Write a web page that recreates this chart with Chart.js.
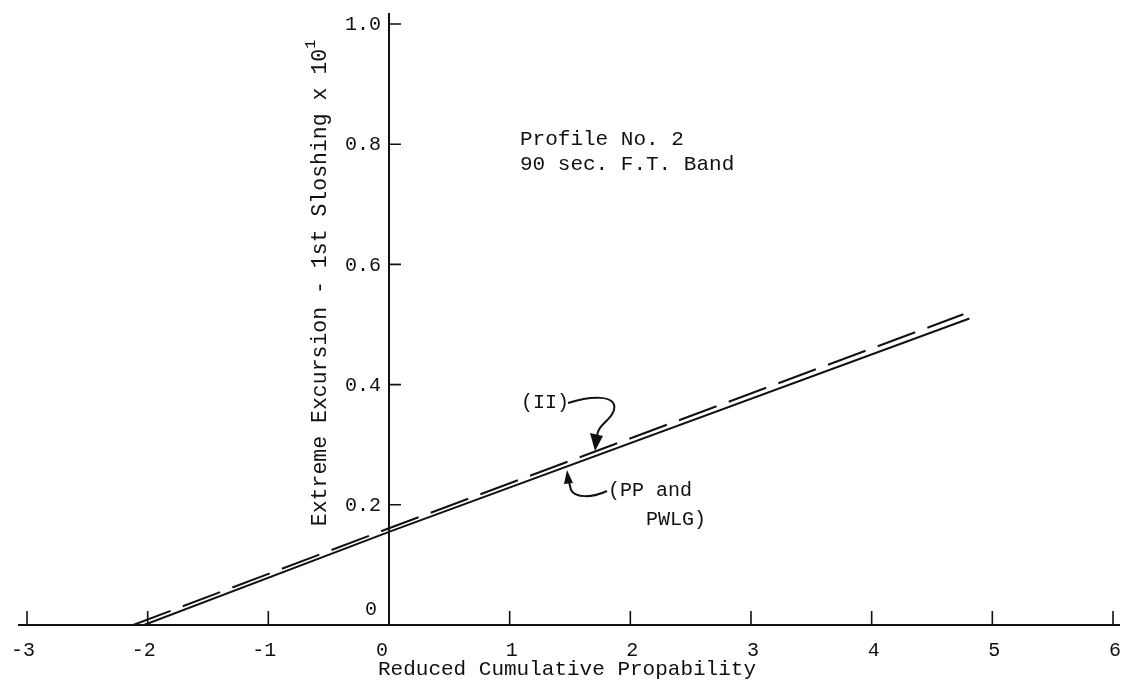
<!DOCTYPE html>
<html>
<head>
<meta charset="utf-8">
<script src="https://cdn.jsdelivr.net/npm/chart.js@4/dist/chart.umd.min.js"></script>
<style>
  body { margin: 0; background: #fff; }
  #wrap { width: 1121px; height: 687px; }
</style>
</head>
<body>
<div id="wrap"><canvas id="chart" width="1121" height="687"></canvas></div>
<script>
// Tick values and labels
const xTickValues = [-3, -2, -1, 0, 1, 2, 3, 4, 5, 6];
const xTickLabels = ['-3', '-2', '-1', '0', '1', '2', '3', '4', '5', '6'];
const yTickValues = [0, 0.2, 0.4, 0.6, 0.8, 1.0];
const yTickLabels = ['0', '0.2', '0.4', '0.6', '0.8', '1.0'];

// Lines (x = reduced cumulative probability)
const solidX = [-2.03, 0, 4.81];
const solidY = [0, 0.155, 0.510];   // PP and PWLG
const dashedX = [-2.12, 0, 4.76];
const dashedY = [0, 0.161, 0.517];  // II

const FONT = '"Liberation Mono", "DejaVu Sans Mono", monospace';
const INK = '#111';

function toPoints(xs, ys) {
    return xs.map((x, i) => ({ x: x, y: ys[i] }));
}

// Draws axis lines, inward tick marks, tick labels, axis titles and the notes
const decorPlugin = {
    id: 'decor',
    afterDraw(chart) {
        const ctx = chart.ctx;
        const xs = chart.scales.x;
        const ys = chart.scales.y;
        const px = v => xs.getPixelForValue(v);
        const py = v => ys.getPixelForValue(v);
        const x0 = px(0), y0 = py(0);

        ctx.save();
        ctx.strokeStyle = INK;
        ctx.fillStyle = INK;
        ctx.lineWidth = 2;

        // axis lines
        ctx.beginPath();
        ctx.moveTo(chart.chartArea.left - 9, y0);
        ctx.lineTo(chart.chartArea.right + 7, y0);
        ctx.moveTo(x0, py(1.0) - 11);
        ctx.lineTo(x0, y0);
        ctx.stroke();

        // tick marks
        ctx.lineWidth = 1.6;
        ctx.beginPath();
        xs.ticks.forEach(t => {
            if (t.value === 0) return;
            ctx.moveTo(px(t.value), y0);
            ctx.lineTo(px(t.value), y0 - 14);
        });
        ys.ticks.forEach(t => {
            if (t.value === 0) return;
            ctx.moveTo(x0, py(t.value));
            ctx.lineTo(x0 + 12, py(t.value));
        });
        ctx.stroke();

        // x tick labels
        ctx.font = '20px ' + FONT;
        ctx.textAlign = 'center';
        ctx.textBaseline = 'middle';
        xTickValues.forEach((v, i) => {
            let shift = xTickLabels[i].startsWith('-') ? -4 : 2;
            if (v === 0) shift = -7;
            ctx.fillText(xTickLabels[i], px(v) + shift, y0 + 26);
        });

        // y tick labels, left of the axis; the "0" sits above the x axis
        ctx.textAlign = 'right';
        yTickValues.forEach((v, i) => {
            if (i === 0) {
                ctx.fillText(yTickLabels[i], x0 - 12, y0 - 15);
            } else {
                ctx.fillText(yTickLabels[i], x0 - 8, py(v) + 1);
            }
        });

        // x title
        ctx.font = '21px ' + FONT;
        ctx.textAlign = 'center';
        ctx.fillText('Reduced Cumulative Propability', 567, 669);

        // y title with superscript
        const main = 'Extreme Excursion - 1st Sloshing x 10';
        ctx.save();
        ctx.translate(320, 283);
        ctx.rotate(-Math.PI / 2);
        ctx.font = '21.5px ' + FONT;
        const wMain = ctx.measureText(main).width;
        ctx.font = '15px ' + FONT;
        const wSup = ctx.measureText('1').width;
        const start = -(wMain + wSup) / 2;
        ctx.font = '21.5px ' + FONT;
        ctx.textAlign = 'left';
        ctx.fillText(main, start, 0);
        ctx.font = '15px ' + FONT;
        ctx.fillText('1', start + wMain, -9);
        ctx.restore();

        // notes
        ctx.font = '21px ' + FONT;
        ctx.textAlign = 'left';
        ctx.textBaseline = 'middle';
        ctx.fillText('Profile No. 2', 520, 139);
        ctx.fillText('90 sec. F.T. Band', 520, 164);
        ctx.font = '20px ' + FONT;
        ctx.fillText('(II)', 521, 403);
        ctx.fillText('(PP and', 608, 491);
        ctx.fillText('PWLG)', 646, 520);

        // curved arrows
        ctx.lineWidth = 2;
        ctx.beginPath();
        ctx.moveTo(568, 403);
        ctx.bezierCurveTo(590, 396, 618, 394, 614, 410);
        ctx.bezierCurveTo(611, 421, 598, 424, 597, 436);
        ctx.stroke();
        ctx.beginPath();
        ctx.moveTo(590, 433);
        ctx.lineTo(603, 436);
        ctx.lineTo(595, 451);
        ctx.closePath();
        ctx.fill();

        ctx.beginPath();
        ctx.moveTo(607, 491);
        ctx.bezierCurveTo(592, 498, 575, 498, 571, 490);
        ctx.lineTo(569, 482);
        ctx.stroke();
        ctx.beginPath();
        ctx.moveTo(564, 484);
        ctx.lineTo(573, 483);
        ctx.lineTo(567, 470);
        ctx.closePath();
        ctx.fill();

        ctx.restore();
    }
};

const ctx = document.getElementById('chart').getContext('2d');
const myChart = new Chart(ctx, {
    type: 'line',
    data: {
        datasets: [{
            label: 'PP and PWLG',
            data: toPoints(solidX, solidY),
            borderColor: INK,
            borderWidth: 2,
            pointRadius: 0,
            tension: 0
        }, {
            label: 'II',
            data: toPoints(dashedX, dashedY),
            borderColor: INK,
            borderWidth: 2,
            borderDash: [40, 13],
            pointRadius: 0,
            tension: 0
        }]
    },
    options: {
        responsive: false,
        animation: false,
        devicePixelRatio: 1,
        layout: { padding: { left: 27, right: 8, top: 24, bottom: 62 } },
        plugins: {
            legend: { display: false },
            tooltip: { enabled: false }
        },
        scales: {
            x: {
                type: 'linear',
                position: { y: 0 },
                min: -3,
                max: 6,
                afterBuildTicks: s => { s.ticks = xTickValues.map(v => ({ value: v })); },
                ticks: { display: false },
                grid: { display: false, drawTicks: false },
                border: { display: false }
            },
            y: {
                type: 'linear',
                position: { x: 0 },
                min: 0,
                max: 1,
                afterBuildTicks: s => { s.ticks = yTickValues.map(v => ({ value: v })); },
                ticks: { display: false },
                grid: { display: false, drawTicks: false },
                border: { display: false }
            }
        }
    },
    plugins: [decorPlugin]
});
</script>
</body>
</html>
